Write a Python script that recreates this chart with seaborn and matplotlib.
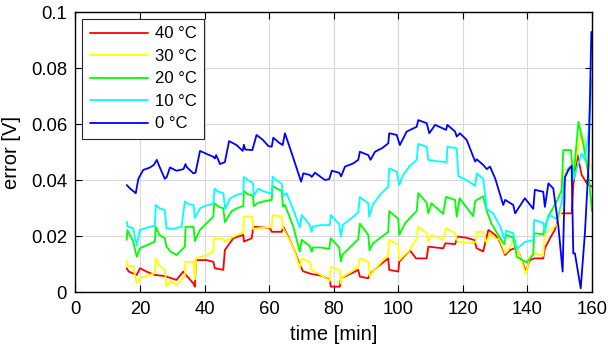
import numpy as np
import pandas as pd
import matplotlib
matplotlib.use("Agg")
import matplotlib.pyplot as plt
import seaborn as sns

labels = ["40 °C", "30 °C", "20 °C", "10 °C", "0 °C"]
colors = ["#ff0000", "#ffff00", "#00ff00", "#00ffff", "#0000ff"]

t_40 = [15.9, 16.5, 19.0, 20.0, 22.0, 24.6, 27.7, 31.3, 33.4, 34.0, 36.5, 37.0, 37.3, 40.6, 42.7, 43.2,
        45.8, 46.3, 48.9, 52.0, 52.2, 54.6, 55.1, 58.0, 60.3, 60.8, 63.9, 64.4, 67.5, 69.5, 70.5, 73.2,
        76.0, 78.8, 79.1, 81.9, 82.2, 85.0, 87.6, 88.1, 90.7, 91.2, 94.0, 96.9, 97.2, 100.0, 100.3, 103.6,
        105.5, 108.8, 109.3, 113.9, 114.6, 117.6, 118.4, 121.0, 123.5, 124.3, 126.3, 127.9, 130.0, 131.5,
        133.1, 134.6, 136.7, 139.5, 140.8, 142.1, 144.9, 145.4, 147.0, 148.5, 150.1, 153.7, 154.2, 155.5,
        156.8, 158.4, 160.0]
v_40 = [0.0086, 0.0074, 0.0062, 0.0086, 0.0074, 0.0062, 0.0058, 0.0044, 0.0074, 0.0065, 0.0032, 0.0020, 0.0115, 0.0115, 0.0109, 0.0086,
        0.0080, 0.0151, 0.0193, 0.0205, 0.0181, 0.0193, 0.0234, 0.0232, 0.0229, 0.0216, 0.0216, 0.0234, 0.0160, 0.0098, 0.0075, 0.0065,
        0.0060, 0.0044, 0.0020, 0.0020, 0.0050, 0.0065, 0.0080, 0.0056, 0.0050, 0.0065, 0.0095, 0.0121, 0.0080, 0.0074, 0.0109, 0.0150,
        0.0121, 0.0121, 0.0163, 0.0157, 0.0175, 0.0172, 0.0199, 0.0195, 0.0187, 0.0157, 0.0146, 0.0223, 0.0205, 0.0180,
        0.0133, 0.0151, 0.0160, 0.0075, 0.0115, 0.0121, 0.0121, 0.0157, 0.0193, 0.0223, 0.0282, 0.0282, 0.0383, 0.0490,
        0.0419, 0.0389, 0.0377]

t_30 = [15.9, 16.3, 17.8, 19.0, 20.0, 22.5, 24.6, 24.9, 26.0, 27.7, 28.2, 29.5, 31.3, 33.9, 34.1, 36.6, 37.0, 37.4,
        40.0, 42.7, 42.9, 45.8, 46.3, 48.4, 50.0, 52.0, 52.2, 54.8, 55.1, 57.0, 60.8, 61.1, 63.9, 64.3, 67.5,
        69.5, 70.1, 72.6, 73.2, 74.0, 76.0, 78.8, 79.1, 81.9, 82.2, 82.8, 85.0, 87.6, 88.1, 90.7, 91.2, 92.2,
        94.5, 96.9, 97.2, 100.0, 100.3, 103.6, 105.7, 106.2, 108.8, 109.3, 110.3, 113.9, 114.8, 117.6, 118.4,
        122.0, 124.0, 124.3, 126.3, 127.4, 128.4, 130.0, 131.5, 133.1, 134.0, 135.6, 136.5, 139.5, 140.8,
        142.1, 144.9, 145.4, 147.0, 149.1, 150.6, 151.1, 153.7, 154.3, 155.3, 156.8, 158.4, 160.0]
v_30 = [0.0112, 0.0090, 0.0095, 0.0032, 0.0050, 0.0060, 0.0068, 0.0121, 0.0095, 0.0080, 0.0020, 0.0040, 0.0026, 0.0056, 0.0109, 0.0109, 0.0046, 0.0121,
        0.0130, 0.0145, 0.0193, 0.0190, 0.0181, 0.0195, 0.0205, 0.0214, 0.0270, 0.0270, 0.0225, 0.0230, 0.0232, 0.0276, 0.0270, 0.0229, 0.0160,
        0.0088, 0.0121, 0.0109, 0.0080, 0.0075, 0.0062, 0.0040, 0.0091, 0.0080, 0.0032, 0.0055, 0.0070, 0.0091, 0.0121, 0.0109, 0.0056, 0.0075,
        0.0105, 0.0133, 0.0187, 0.0169, 0.0115, 0.0151, 0.0193, 0.0234, 0.0211, 0.0181, 0.0205, 0.0187, 0.0229, 0.0211, 0.0181,
        0.0175, 0.0180, 0.0216, 0.0216, 0.0175, 0.0211, 0.0193, 0.0187, 0.0139, 0.0150, 0.0187, 0.0170, 0.0065, 0.0127,
        0.0139, 0.0130, 0.0211, 0.0223, 0.0240, 0.0294, 0.0437, 0.0443, 0.0430, 0.0496, 0.0568, 0.0496, 0.0437]

t_20 = [15.9, 16.1, 17.8, 19.0, 20.0, 22.5, 24.6, 24.9, 26.0, 27.7, 28.2, 29.5, 31.3, 33.9, 34.1, 36.6, 37.0, 38.6,
        40.5, 42.7, 43.0, 44.5, 45.8, 46.3, 48.4, 50.0, 52.0, 52.2, 53.5, 55.0, 55.3, 56.6, 58.5, 60.8, 61.1,
        62.5, 63.9, 64.3, 64.9, 67.5, 69.5, 70.1, 72.6, 73.2, 73.6, 76.0, 78.6, 79.1, 81.7, 82.2, 82.8, 85.0,
        87.6, 88.1, 90.7, 91.1, 92.2, 94.5, 96.9, 97.2, 100.0, 100.3, 102.1, 104.0, 105.7, 106.2, 108.8, 109.3,
        110.3, 113.9, 114.8, 117.6, 118.1, 119.0, 123.2, 123.8, 126.3, 127.4, 128.9, 131.0, 132.8, 133.5,
        135.6, 136.7, 139.8, 141.8, 142.1, 144.9, 145.4, 147.0, 149.1, 150.6, 151.1, 153.5, 154.2, 155.8,
        157.3, 158.9, 160.0]
v_20 = [0.0187, 0.0222, 0.0185, 0.0127, 0.0157, 0.0170, 0.0181, 0.0234, 0.0205, 0.0193, 0.0163, 0.0145, 0.0133, 0.0163, 0.0234, 0.0234, 0.0183, 0.0223,
        0.0245, 0.0270, 0.0318, 0.0305, 0.0300, 0.0250, 0.0290, 0.0300, 0.0308, 0.0362, 0.0350, 0.0345, 0.0308, 0.0320, 0.0325, 0.0330, 0.0380,
        0.0370, 0.0362, 0.0305, 0.0312, 0.0234, 0.0145, 0.0187, 0.0165, 0.0145, 0.0160, 0.0160, 0.0155, 0.0193, 0.0160, 0.0110, 0.0135, 0.0160,
        0.0190, 0.0245, 0.0205, 0.0150, 0.0175, 0.0195, 0.0216, 0.0290, 0.0262, 0.0205, 0.0246, 0.0270, 0.0290, 0.0354, 0.0320, 0.0282,
        0.0318, 0.0280, 0.0341, 0.0330, 0.0270, 0.0336, 0.0272, 0.0326, 0.0343, 0.0290, 0.0245, 0.0203, 0.0172, 0.0205,
        0.0195, 0.0127, 0.0106, 0.0135, 0.0211, 0.0207, 0.0235, 0.0282, 0.0325, 0.0365, 0.0508, 0.0508, 0.0401, 0.0609,
        0.0530, 0.0420, 0.0290]

t_10 = [15.9, 16.2, 17.9, 19.0, 20.0, 22.5, 24.6, 24.9, 26.0, 27.7, 28.2, 30.0, 32.9, 33.9, 35.0, 36.6, 37.0, 38.6,
        40.5, 42.7, 43.1, 44.2, 45.8, 46.4, 47.9, 50.0, 52.0, 52.2, 53.5, 55.0, 55.3, 56.6, 58.5, 60.8, 61.1,
        62.5, 63.9, 64.3, 65.4, 67.5, 69.5, 70.1, 72.6, 73.2, 73.6, 76.0, 78.8, 79.1, 81.7, 82.2, 82.8, 85.0,
        87.6, 88.1, 90.7, 91.0, 92.2, 94.5, 96.9, 97.2, 99.5, 100.3, 101.5, 103.5, 105.7, 106.2, 108.8, 109.3,
        112.0, 115.0, 115.2, 118.1, 118.6, 121.2, 123.8, 124.3, 126.3, 127.4, 129.4, 131.5, 133.0, 133.4,
        135.6, 136.7, 139.2, 141.8, 142.1, 144.9, 145.4, 146.5, 149.1, 150.6, 151.6, 152.7, 153.7, 154.3,
        155.5, 156.8, 157.8, 158.9, 159.7, 160.0]
v_10 = [0.0252, 0.0235, 0.0229, 0.0167, 0.0223, 0.0232, 0.0238, 0.0312, 0.0300, 0.0294, 0.0229, 0.0226, 0.0234, 0.0325, 0.0315, 0.0312, 0.0265, 0.0300,
        0.0310, 0.0316, 0.0370, 0.0360, 0.0354, 0.0297, 0.0336, 0.0348, 0.0354, 0.0412, 0.0400, 0.0390, 0.0345, 0.0370, 0.0360, 0.0352, 0.0413,
        0.0398, 0.0388, 0.0345, 0.0354, 0.0294, 0.0232, 0.0276, 0.0240, 0.0215, 0.0235, 0.0240, 0.0240, 0.0276, 0.0244, 0.0199, 0.0240, 0.0260,
        0.0285, 0.0340, 0.0318, 0.0270, 0.0315, 0.0350, 0.0377, 0.0443, 0.0431, 0.0383, 0.0419, 0.0450, 0.0473, 0.0530, 0.0520, 0.0473,
        0.0468, 0.0465, 0.0520, 0.0514, 0.0415, 0.0400, 0.0380, 0.0425, 0.0405, 0.0298, 0.0282, 0.0236, 0.0187, 0.0220,
        0.0211, 0.0155, 0.0180, 0.0186, 0.0258, 0.0248, 0.0213, 0.0278, 0.0262, 0.0320, 0.0413, 0.0445, 0.0449, 0.0405,
        0.0450, 0.0496, 0.0473, 0.0568, 0.0720, 0.0760]

t_0 = [15.9, 17.0, 18.7, 19.5, 21.0, 23.0, 24.3, 25.2, 26.0, 27.7, 28.3, 29.3, 31.3, 33.5, 34.1, 34.5, 36.5, 37.2,
       38.6, 40.5, 42.7, 43.2, 43.6, 44.8, 46.3, 47.6, 49.9, 51.8, 52.2, 52.6, 54.8, 56.1, 58.0, 59.8, 60.8,
       61.3, 63.0, 64.2, 64.9, 67.5, 69.9, 70.6, 72.6, 73.2, 74.2, 77.3, 78.6, 79.4, 81.7, 82.3, 83.5, 86.0,
       87.6, 88.1, 90.7, 91.4, 92.8, 95.0, 96.9, 97.2, 99.5, 100.5, 102.6, 105.7, 106.2, 108.8, 109.6, 111.4,
       114.8, 115.2, 117.6, 118.1, 119.1, 121.2, 123.8, 124.3, 126.3, 127.4, 128.4, 130.0, 132.5, 133.1,
       135.6, 136.2, 139.2, 141.8, 142.3, 144.9, 145.4, 146.5, 148.0, 149.6, 150.9, 151.6, 152.7, 153.7,
       154.2, 154.7, 156.5, 157.8, 158.9, 159.8]
v_0 = [0.0383, 0.0370, 0.0354, 0.0405, 0.0437, 0.0445, 0.0455, 0.0473, 0.0450, 0.0405, 0.0412, 0.0446, 0.0434, 0.0440, 0.0458, 0.0447, 0.0425, 0.0427,
       0.0505, 0.0495, 0.0484, 0.0478, 0.0490, 0.0458, 0.0465, 0.0540, 0.0526, 0.0505, 0.0527, 0.0510, 0.0508, 0.0562, 0.0545, 0.0522, 0.0520,
       0.0552, 0.0535, 0.0526, 0.0568, 0.0479, 0.0395, 0.0425, 0.0419, 0.0412, 0.0427, 0.0401, 0.0404, 0.0434, 0.0427, 0.0414, 0.0449, 0.0460,
       0.0473, 0.0502, 0.0490, 0.0473, 0.0502, 0.0515, 0.0532, 0.0568, 0.0562, 0.0526, 0.0574, 0.0591, 0.0615, 0.0604, 0.0568, 0.0598,
       0.0580, 0.0598, 0.0574, 0.0556, 0.0568, 0.0544, 0.0467, 0.0475, 0.0455, 0.0440, 0.0449, 0.0407, 0.0312, 0.0330,
       0.0312, 0.0282, 0.0336, 0.0298, 0.0366, 0.0359, 0.0305, 0.0389, 0.0371, 0.0234, 0.0074, 0.0410, 0.0437, 0.0452,
       0.0139, 0.0139, 0.0014, 0.0211, 0.0449, 0.0930]

x_ticks = [0, 20, 40, 60, 80, 100, 120, 140, 160]
y_ticks = [0, 0.02, 0.04, 0.06, 0.08, 0.1]
y_ticklabels = ["0", "0.02", "0.04", "0.06", "0.08", "0.1"]

series_t = [t_40, t_30, t_20, t_10, t_0]
series_v = [v_40, v_30, v_20, v_10, v_0]
frames = []
for lab, tt, vv in zip(labels, series_t, series_v):
    frames.append(pd.DataFrame({"time": tt, "error": vv, "series": lab}))
df = pd.concat(frames, ignore_index=True)

sns.set_theme(style="white")
plt.rcParams["font.family"] = ["Liberation Sans", "DejaVu Sans"]
plt.rcParams["text.color"] = "black"
plt.rcParams["axes.labelcolor"] = "black"
plt.rcParams["xtick.color"] = "black"
plt.rcParams["ytick.color"] = "black"

fig = plt.figure(figsize=(6.08, 3.56), dpi=100)
ax = fig.add_axes([0.124, 0.179, 0.8497, 0.7864])

for lab, col in zip(labels, colors):
    sub = df[df["series"] == lab]
    sns.lineplot(data=sub, x="time", y="error", sort=False, estimator=None,
                 color=col, linewidth=1.3, ax=ax, label=lab)

ax.set_xlim(0, 160)
ax.set_ylim(0, 0.1)
ax.set_xticks(x_ticks)
ax.set_yticks(y_ticks)
ax.set_yticklabels(y_ticklabels)
ax.grid(True, color="#d9d9d9", linewidth=0.8)
ax.set_axisbelow(True)
ax.tick_params(direction="in", length=5, width=0.8, labelsize=13.3, colors="black",
               top=True, right=True, bottom=True, left=True, pad=6)
for s in ax.spines.values():
    s.set_color("black")
    s.set_linewidth(1.0)
ax.set_xlabel("time [min]", fontsize=14.5, labelpad=5)
ax.set_ylabel("error [V]", fontsize=14.5, labelpad=7)

leg = ax.legend(loc="upper left", fontsize=12, frameon=True, fancybox=False,
                edgecolor="#262626", framealpha=1, handlelength=3.5, labelspacing=0.45,
                borderaxespad=0.4, handletextpad=0.4, borderpad=0.45)
leg.get_frame().set_linewidth(0.8)
for txt in leg.get_texts():
    txt.set_color("black")

fig.savefig("out.png", dpi=100)
